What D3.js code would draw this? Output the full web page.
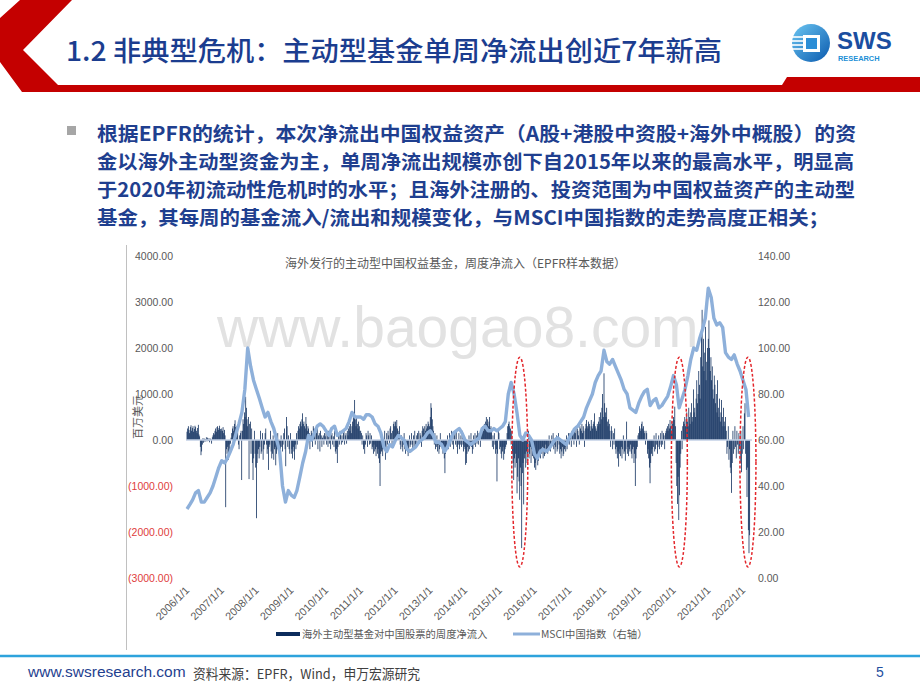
<!DOCTYPE html>
<html><head><meta charset="utf-8">
<script src="https://cdn.jsdelivr.net/npm/d3@7"></script>
<style>body{margin:0;background:#fff}svg{display:block}</style>
</head><body><svg id="c" width="920" height="690"></svg>
<script>
// ---------- DATA ----------
// weekly net flow of active overseas China equity funds (USD mn), one array per year
const flow2006 = [180,250,300,220,150,280,320,200,260,300,180,240,310,280,200,150,260,330,120,80,-150,-330,-250,-100,40,-60,30,-40,20,60,-30,50,-20,40,-50,30,20,-80,60,100,150,120,200,250,180,280,300,220,260,310,240,200];
const flow2007 = [250,200,280,150,220,100,-1460,-200,-300,-150,-430,-100,-250,-80,50,150,250,300,200,350,430,280,150,300,250,-100,-200,100,150,200,-870,200,450,350,600,500,940,700,450,300,500,-850,350,400,-300,250,-500,-870,-400,200,-300,-600];
const flow2008 = [-1700,-500,-300,-200,-400,-150,200,-300,-250,150,-430,-200,-100,150,250,-100,-300,-200,-650,-150,-100,200,-250,-400,-300,100,-430,-200,-150,-550,-300,-200,150,-100,-300,-450,-200,100,-150,-250,-100,150,250,-200,-570,500,300,-150,100,-200,-300,150];
const flow2009 = [-300,-200,-400,-150,-250,-430,-100,-200,150,-100,200,300,250,350,400,300,450,580,350,400,300,250,500,350,200,300,250,150,-200,100,200,150,-150,300,250,100,-100,200,150,300,-200,100,150,-250,200,100,-150,50,100,-100,150,80];
const flow2010 = [150,-100,100,-150,200,-80,120,-200,100,150,-100,80,-150,200,-250,-300,-200,-500,-150,100,-100,200,150,-100,100,-50,150,200,-100,100,150,-80,200,100,250,300,200,350,150,300,400,500,600,870,450,300,500,350,250,400,300,200];
const flow2011 = [200,150,-100,100,-200,-150,-300,-100,150,100,-150,200,100,-100,150,-80,100,-200,-150,-300,-100,-250,-200,-350,-150,-300,-200,-400,-500,-1000,-300,-250,-200,-350,-100,-150,200,-430,-200,150,-100,200,100,-150,250,300,150,-100,200,350,400,300];
const flow2012 = [400,300,435,250,200,150,300,-100,-200,100,-150,-250,-100,150,-200,-300,-150,-100,-250,-350,-200,100,-150,-100,150,-100,-200,100,-150,200,-100,-150,100,150,-100,200,-80,150,100,-150,200,300,250,150,300,200,350,250,300,400,350,300];
const flow2013 = [500,800,700,450,300,200,-100,150,-200,-150,100,-250,-100,-300,-200,150,-150,-100,-200,-300,-250,-400,-720,-300,-200,-150,100,-200,-100,150,-150,100,200,-100,150,-200,100,150,-100,200,-150,-300,-100,150,-200,-100,100,-150,200,-100,-250,-150];
const flow2014 = [-200,-540,-500,-300,-150,-250,100,-200,-100,150,-150,-300,-200,100,-100,150,-150,100,-80,200,-100,150,100,-150,200,150,250,300,200,350,300,400,500,350,450,300,400,500,250,300,200,-150,100,-200,150,-100,-300,-200,-900,-300,200,150];
const flow2015 = [-200,-150,-300,-400,-250,-150,-430,-300,-200,-150,-100,150,300,350,400,300,250,-100,200,-300,-500,-870,-400,-600,-300,-500,-1160,-800,-400,-900,-1300,-600,-1000,-2350,-720,-500,-1400,-400,-300,-600,-250,-500,-300,200,-400,-300,-150,-500,-200,-350,-250,-400];
const flow2016 = [-600,-500,-650,-400,-300,-550,-450,-200,-350,-400,-250,-300,-150,-400,-200,-350,-300,-100,-250,-200,-300,-150,100,-200,-250,-150,100,-100,150,-200,-100,-300,-150,100,-250,-200,150,-100,-300,-200,-400,-250,-150,-350,-300,-200,-150,-250,100,-200,-100,150];
const flow2017 = [-100,150,100,-150,200,150,250,-100,200,150,300,-150,250,200,100,-100,300,250,200,350,150,300,200,-150,250,350,435,300,250,400,350,300,200,435,300,250,350,400,580,300,250,200,350,300,400,500,350,600,450,700,1000,500];
const flow2018 = [1450,800,600,500,700,400,300,450,350,200,-150,300,200,-200,150,-100,250,-200,-300,-150,-400,-250,-580,-300,-200,-350,-150,-400,-200,100,-300,-250,-450,-200,400,-300,-150,-350,-200,-250,-100,-300,-400,-200,-150,-500,-300,-1000,-400,-200,-150,100];
const flow2019 = [150,300,250,200,350,400,250,300,200,150,-100,200,150,-300,-200,-400,-600,-940,-500,-300,-200,-350,-150,100,-250,-200,150,-100,-300,-150,100,-200,-100,150,-150,200,-100,150,100,-200,150,200,250,300,200,350,250,435,300,200,400,350];
const flow2020 = [500,435,725,300,-500,-1000,-1390,-800,-1740,-1200,-600,-300,200,-200,300,400,350,500,300,450,600,400,300,700,500,350,600,800,400,500,1100,600,700,500,900,1300,800,1000,1500,1200,900,1800,2400,2830,1600,2200,1500,1900,2460,1300,1700,2000];
const flow2021 = [2200,2600,2000,1500,1800,1300,1600,1100,900,1400,1200,800,1000,600,1300,700,500,900,400,600,870,500,300,700,400,300,500,200,-300,-150,300,-430,-200,-600,-720,-1150,-500,200,-300,-200,300,-150,-400,200,-100,-300,150,-200,-500,200,-700,-300];
const flow2022 = [300,-200,580,800,-300,-650,-1240,-600,-1960,-2460,-2070];

// MSCI China index, monthly (right axis)
const msci2006 = [30,32,34,37,38,33,33,35,37,40,44,48];
const msci2007 = [51,50,52,55,58,63,67,72,82,100,92,86];
const msci2008 = [82,78,74,70,72,68,65,60,55,40,33,38];
const msci2009 = [36,35,38,44,50,55,62,60,63,66,67,66];
const msci2010 = [64,62,65,66,62,63,64,65,68,72,70,70];
const msci2011 = [70,69,71,71,70,67,66,63,57,55,58,57];
const msci2012 = [60,62,61,60,56,55,56,57,59,60,61,63];
const msci2013 = [64,62,59,59,58,55,57,60,63,64,65,63];
const msci2014 = [60,59,58,59,60,61,65,66,64,64,65,64];
const msci2015 = [65,66,68,80,85,80,72,62,60,63,62,60];
const msci2016 = [54,52,55,56,55,56,58,60,61,60,59,58];
const msci2017 = [61,63,65,66,68,70,74,77,80,85,88,90];
const msci2018 = [99,94,93,95,92,89,86,82,80,74,73,72];
const msci2019 = [76,79,81,82,75,77,78,74,75,77,79,83];
const msci2020 = [88,84,74,78,82,88,95,100,99,104,108,113];
const msci2021 = [126,122,113,110,111,109,98,96,95,97,93,90];
const msci2022 = [86,82,70];

const years = [2006,2007,2008,2009,2010,2011,2012,2013,2014,2015,2016,2017,2018,2019,2020,2021,2022];
const flowByYear = [flow2006,flow2007,flow2008,flow2009,flow2010,flow2011,flow2012,flow2013,flow2014,flow2015,flow2016,flow2017,flow2018,flow2019,flow2020,flow2021,flow2022];
const msciByYear = [msci2006,msci2007,msci2008,msci2009,msci2010,msci2011,msci2012,msci2013,msci2014,msci2015,msci2016,msci2017,msci2018,msci2019,msci2020,msci2021,msci2022];

const leftTicks = [4000,3000,2000,1000,0,-1000,-2000,-3000];
const rightTicks = [140,120,100,80,60,40,20,0];
// highlighted episodes (date, value range on left axis)
const highlights = [
  {date:"2015-07-31", top:1800, bottom:-2760},
  {date:"2020-03-03", top:1800, bottom:-2760},
  {date:"2022-02-22", top:1800, bottom:-2760}
];

const slideTitle = "1.2 非典型危机：主动型基金单周净流出创近7年新高";
const bulletLines = [
  "根据EPFR的统计，本次净流出中国权益资产（A股+港股中资股+海外中概股）的资",
  "金以海外主动型资金为主，单周净流出规模亦创下自2015年以来的最高水平，明显高",
  "于2020年初流动性危机时的水平；且海外注册的、投资范围为中国权益资产的主动型",
  "基金，其每周的基金流入/流出和规模变化，与MSCI中国指数的走势高度正相关；"
];
const bulletWidths = [759, 757, 758, 732];
const chartTitle = "海外发行的主动型中国权益基金，周度净流入（EPFR样本数据）";
const yTitle = "百万美元";
const legendBar = "海外主动型基金对中国股票的周度净流入";
const legendLine = "MSCI中国指数（右轴）";

// ---------- BUILD ----------
const flows = [];
years.forEach((y,i)=> flowByYear[i].forEach((v,k)=> flows.push({date:d3.timeDay.offset(new Date(y,0,1), 7*k), v})));
const msci = [];
years.forEach((y,i)=> msciByYear[i].forEach((v,m)=> msci.push({date:new Date(y,m,1), v})));

const svg = d3.select("#c");
const CJK = "'Noto Sans CJK SC','Noto Sans',sans-serif";
const LAT = "'Liberation Sans',Arial,sans-serif";

// header
svg.append("polygon")
  .attr("points","20,0 72,0 23,50 58,85 782,85 787,77 920,77 920,92 22,92 0,62 0,18")
  .attr("fill","#c40000");
svg.append("text").attr("x",66).attr("y",61).text(slideTitle)
  .attr("font-family",CJK).attr("font-size",27).attr("font-weight",500)
  .attr("fill","#1b3d8f").attr("textLength",656).attr("lengthAdjust","spacingAndGlyphs");

// logo
const defs = svg.append("defs");
const lg = defs.append("linearGradient").attr("id","lg").attr("x1","0").attr("y1","0").attr("x2","1").attr("y2","1");
lg.append("stop").attr("offset","0").attr("stop-color","#6cc6f2");
lg.append("stop").attr("offset","1").attr("stop-color","#0a5aae");
const logo = svg.append("g");
logo.append("circle").attr("cx",811).attr("cy",43).attr("r",19).attr("fill","url(#lg)");
logo.append("rect").attr("x",803).attr("y",35).attr("width",17).attr("height",17).attr("fill","#fff");
logo.append("rect").attr("x",806).attr("y",38).attr("width",11).attr("height",11).attr("fill","#2c8ed6");
[37,41,45,49].forEach(yy=> logo.append("line").attr("x1",791).attr("x2",803).attr("y1",yy).attr("y2",yy).attr("stroke","#fff").attr("stroke-width",1.6));
logo.append("text").attr("x",837).attr("y",48.5).text("SWS").attr("font-family",LAT).attr("font-weight","bold").attr("font-size",24).attr("fill","#1b4ea0");
logo.append("text").attr("x",838).attr("y",61).text("RESEARCH").attr("font-family",LAT).attr("font-weight","bold").attr("font-size",7.4).attr("fill","#1c8fd6");

// bullet text
svg.append("rect").attr("x",67).attr("y",126).attr("width",9).attr("height",9).attr("fill","#a6a6a6");
bulletLines.forEach((t,i)=> svg.append("text").attr("x",97).attr("y",141+28*i).text(t)
  .attr("font-family",CJK).attr("font-weight","bold").attr("font-size",19.5).attr("fill","#1f3f8f")
  .attr("textLength",bulletWidths[i]).attr("lengthAdjust","spacingAndGlyphs"));

// chart frame left border
svg.append("line").attr("x1",126.5).attr("x2",126.5).attr("y1",245).attr("y2",650).attr("stroke","#c0c0c0");

// watermark
svg.append("text").attr("x",217).attr("y",347).text("www.baogao8.com")
  .attr("font-family",LAT).attr("font-size",57).attr("fill","#e2e2e2");

// scales
const x = d3.scaleTime().domain([new Date(2006,0,1), new Date(2022,0,1)]).range([187,743]);
const yL = d3.scaleLinear().domain([-3000,4000]).range([578,256]);
const yR = d3.scaleLinear().domain([0,140]).range([578,256]);

// chart title
svg.append("text").attr("x",285).attr("y",268).text(chartTitle)
  .attr("font-family",CJK).attr("font-size",12).attr("fill","#595959");

// left axis
const fmtL = v => v<0 ? "("+d3.format(".2f")(-v)+")" : d3.format(".2f")(v);
const gL = svg.append("g").attr("transform","translate(176,0)")
  .call(d3.axisLeft(yL).tickValues(leftTicks).tickFormat(fmtL).tickSize(0).tickPadding(3));
gL.select(".domain").remove();
gL.selectAll("text").attr("font-family",LAT).attr("font-size",10.5).attr("fill",d=> d<0?"#e03c3c":"#595959");

// right axis
const gR = svg.append("g").attr("transform","translate(755,0)")
  .call(d3.axisRight(yR).tickValues(rightTicks).tickFormat(d3.format(".2f")).tickSize(0).tickPadding(3));
gR.select(".domain").remove();
gR.selectAll("text").attr("font-family",LAT).attr("font-size",10.5).attr("fill","#595959");

// y title
svg.append("text").attr("transform","translate(142,417) rotate(-90)").attr("text-anchor","middle").text(yTitle)
  .attr("font-family",CJK).attr("font-size",11).attr("fill","#595959");

// x axis labels
const xTicks = d3.timeYear.range(new Date(2006,0,1), new Date(2022,0,2));
const fmtX = d3.timeFormat("%Y/%-m/%-d");
svg.append("g").selectAll("text").data(xTicks).join("text")
  .attr("transform",d=>`translate(${x(d)+3},591) rotate(-45)`)
  .attr("text-anchor","end").text(d=>fmtX(d))
  .attr("font-family",LAT).attr("font-size",10.8).attr("fill","#595959");

// bars
const bw = 0.78;
svg.append("g").selectAll("rect").data(flows).join("rect")
  .attr("x",d=>x(d.date)-bw/2).attr("width",bw)
  .attr("y",d=>yL(Math.max(0,d.v))).attr("height",d=>Math.abs(yL(d.v)-yL(0)))
  .attr("fill","#0c2c5c");

// zero line
svg.append("line").attr("x1",186).attr("x2",752).attr("y1",yL(0)).attr("y2",yL(0))
  .attr("stroke","#c3d1e6").attr("stroke-width",1.5);

// MSCI line
svg.append("path").datum(msci)
  .attr("d",d3.line().x(d=>x(d.date)).y(d=>yR(d.v)))
  .attr("fill","none").attr("stroke","#8eb0da").attr("stroke-width",3.4).attr("stroke-linejoin","round");

// highlight ellipses
svg.append("g").selectAll("ellipse").data(highlights).join("ellipse")
  .attr("cx",d=>x(new Date(d.date))).attr("cy",d=>(yL(d.top)+yL(d.bottom))/2)
  .attr("rx",8).attr("ry",d=>(yL(d.bottom)-yL(d.top))/2)
  .attr("fill","none").attr("stroke","#e3262b").attr("stroke-width",1.5).attr("stroke-dasharray","3,2");

// legend
svg.append("rect").attr("x",276).attr("y",632).attr("width",24).attr("height",4).attr("fill","#0c2c5c");
svg.append("text").attr("x",302).attr("y",638).text(legendBar).attr("font-family",CJK).attr("font-size",10.3).attr("fill","#595959");
svg.append("line").attr("x1",513).attr("x2",540).attr("y1",634).attr("y2",634).attr("stroke","#8eb0da").attr("stroke-width",3);
svg.append("text").attr("x",541).attr("y",638).text(legendLine).attr("font-family",CJK).attr("font-size",10.3).attr("fill","#595959");

// footer
svg.append("line").attr("x1",0).attr("x2",920).attr("y1",656).attr("y2",656).attr("stroke","#2ea3dc").attr("stroke-width",2.5);
svg.append("text").attr("x",28).attr("y",677).text("www.swsresearch.com").attr("font-family",LAT).attr("font-size",15.5).attr("fill","#1f3f8f");
svg.append("text").attr("x",193).attr("y",679).text("资料来源：EPFR，Wind，申万宏源研究")
  .attr("font-family",CJK).attr("font-size",13.5).attr("fill","#404040").attr("textLength",227).attr("lengthAdjust","spacingAndGlyphs");
svg.append("text").attr("x",876).attr("y",677).text("5").attr("font-family",LAT).attr("font-size",14).attr("fill","#1f4f9f");
</script>
</body></html>
